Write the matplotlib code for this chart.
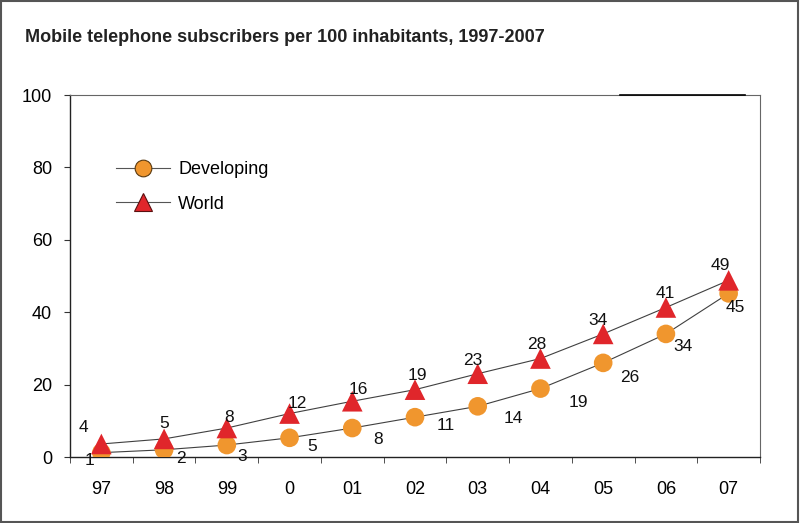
import matplotlib
matplotlib.use("Agg")
import matplotlib.pyplot as plt
from matplotlib.lines import Line2D
from matplotlib.patches import Rectangle

years = ["97", "98", "99", "0", "01", "02", "03", "04", "05", "06", "07"]
developing = [1.2, 2.0, 3.3, 5.3, 8.0, 11.0, 14.0, 18.9, 26.0, 34.0, 45.2]
world = [3.6, 5.0, 8.0, 12.0, 15.4, 18.6, 23.0, 27.2, 34.0, 41.3, 48.8]
developing_labels = ["1", "2", "3", "5", "8", "11", "14", "19", "26", "34", "45"]
world_labels = ["4", "5", "8", "12", "16", "19", "23", "28", "34", "41", "49"]

# label offsets in pixels (dx, dy upward)
world_offsets = [(-18, 16), (0, 15), (2, 11), (8, 10), (6, 12), (2, 14), (-5, 13),
                 (-4, 14), (-5, 13), (-1, 14), (-8, 15)]
dev_offsets = [(-12, -8), (17, -9), (15, -11), (23, -9), (26, -11), (31, -8), (36, -12),
               (38, -14), (27, -15), (17, -13), (7, -14)]

plt.rcParams['font.family'] = ['Liberation Sans', 'DejaVu Sans']

fig = plt.figure(figsize=(8, 5.23), dpi=100)
ax = fig.add_axes([70/800, 1-457/523, 690/800, 362/523])

x = list(range(len(years)))
ax.plot(x, developing, color='#404040', lw=0.8, zorder=2)
ax.plot(x, world, color='#404040', lw=0.8, zorder=2)
ax.scatter(x, developing, s=180, marker='o', color='#F0962E', edgecolors='none', zorder=3)
ax.scatter(x, world, s=220, marker='^', color='#E0262B', edgecolors='none', zorder=4)

for i in x:
    ax.annotate(world_labels[i], (i, world[i]), xytext=world_offsets[i], textcoords='offset pixels',
                ha='center', va='center', fontsize=12.5, color='#111111', zorder=5)
    ax.annotate(developing_labels[i], (i, developing[i]), xytext=dev_offsets[i], textcoords='offset pixels',
                ha='center', va='center', fontsize=12.5, color='#111111', zorder=5)

ax.set_xlim(-0.5, len(years) - 0.5)
ax.set_ylim(0, 100)
ax.set_yticks([0, 20, 40, 60, 80, 100])
ax.set_xticks(x)
ax.set_xticklabels(years)
ax.set_xticks([i - 0.5 for i in range(len(years) + 1)], minor=True)
ax.tick_params(axis='x', which='major', length=0, pad=17, labelsize=13)
ax.tick_params(axis='x', which='minor', length=4, direction='out', color='#333333')
ax.tick_params(axis='y', length=4, direction='out', pad=9, labelsize=13, color='#333333')
for s in ['left', 'bottom']:
    ax.spines[s].set_color('#222222')
    ax.spines[s].set_linewidth(1.0)
for s in ['top', 'right']:
    ax.spines[s].set_color('#666666')
    ax.spines[s].set_linewidth(0.8)
ax.plot([(620-70)/690, (745-70)/690], [1, 1], transform=ax.transAxes, color='black',
        lw=1.2, clip_on=False, zorder=6)

handles = [
    Line2D([0], [0], color='#555555', lw=0.8, marker='o', markersize=12,
           markerfacecolor='#F0962E', markeredgecolor='#5a3a10', markeredgewidth=0.8, label='Developing'),
    Line2D([0], [0], color='#555555', lw=0.8, marker='^', markersize=13,
           markerfacecolor='#E0262B', markeredgecolor='#5a1010', markeredgewidth=0.8, label='World'),
]
ax.legend(handles=handles, loc='upper left', bbox_to_anchor=((116-70)/690, (457-161)/362),
          frameon=False, fontsize=13, handlelength=3.0, labelspacing=0.97, handletextpad=0.45,
          borderpad=0, borderaxespad=0)

fig.text(25/800, 1-37/523, "Mobile telephone subscribers per 100 inhabitants, 1997-2007",
         fontsize=13, fontweight='bold', ha='left', va='center', color='#222222')

fig.patches.append(Rectangle((0.001, 0.001), 0.996, 0.997, transform=fig.transFigure,
                             fill=False, edgecolor='#555555', lw=1.5))

fig.savefig("out.png", dpi=100)
